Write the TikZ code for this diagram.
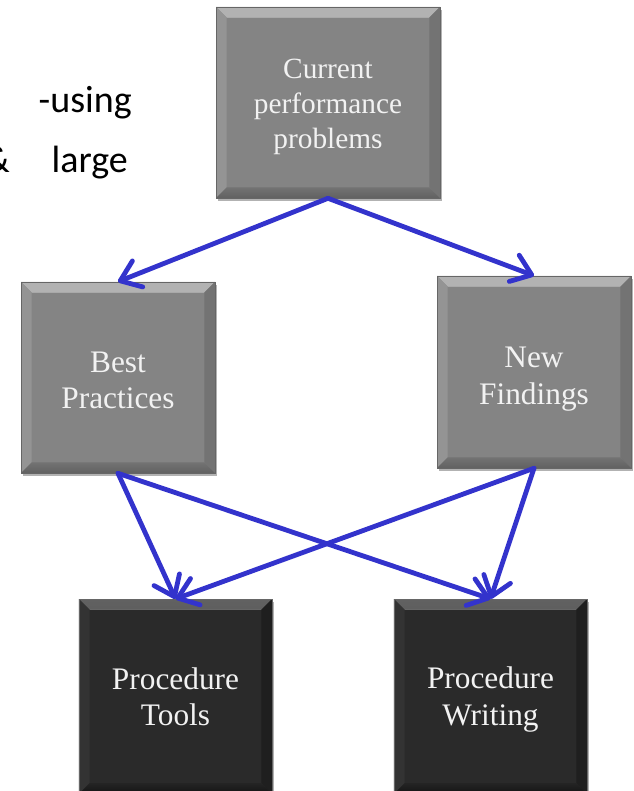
\documentclass[tikz,border=0pt]{standalone}
\usepackage{fontspec}
\setmainfont{Liberation Serif}
\newfontfamily\slidefont{Carlito}
\usetikzlibrary{arrows.meta,shadows}

\definecolor{flowblue}{RGB}{51,51,204}
\definecolor{grayface}{RGB}{132,132,132}
\definecolor{darkface}{RGB}{42,42,42}

% bevelled face: top band (#1 -> #2), left #3, right #4, bottom band (#5 -> #6), highlight #7
\newcommand\bevelbands[7]{%
  \def\bd{8pt}%
  \shade[top color=#1,bottom color=#2]
    (path picture bounding box.north west) -- (path picture bounding box.north east)
    -- ([xshift=-\bd,yshift=-\bd]path picture bounding box.north east)
    -- ([xshift=\bd,yshift=-\bd]path picture bounding box.north west) -- cycle;
  \fill[#3]
    (path picture bounding box.north west) -- ([xshift=\bd,yshift=-\bd]path picture bounding box.north west)
    -- ([xshift=\bd,yshift=\bd]path picture bounding box.south west)
    -- (path picture bounding box.south west) -- cycle;
  \fill[#4]
    (path picture bounding box.north east) -- ([xshift=-\bd,yshift=-\bd]path picture bounding box.north east)
    -- ([xshift=-\bd,yshift=\bd]path picture bounding box.south east)
    -- (path picture bounding box.south east) -- cycle;
  \shade[top color=#5,bottom color=#6]
    (path picture bounding box.south west) -- (path picture bounding box.south east)
    -- ([xshift=-\bd,yshift=\bd]path picture bounding box.south east)
    -- ([xshift=\bd,yshift=\bd]path picture bounding box.south west) -- cycle;
  \draw[#7,line width=0.6pt]
    ([xshift=\bd,yshift=-\bd]path picture bounding box.north west)
    -- ([xshift=-\bd,yshift=-\bd]path picture bounding box.north east);
}

\tikzset{
  box/.style={rectangle, inner sep=0pt,
    draw=black!60, line width=0.4pt,
    drop shadow={shadow xshift=1.5pt, shadow yshift=-2pt, opacity=0.3, fill=black}},
  graybox/.style={box, fill=grayface,
    path picture={\bevelbands{black!30}{black!38}{black!42}{black!55}{black!55}{black!62}{white!30!grayface}}},
  darkbox/.style={box, fill=darkface,
    path picture={\bevelbands{black!62}{black!78}{black!80}{black!88}{black!86}{black!92}{black!60}}},
  label/.style={align=center, inner sep=0pt, text=white!95!black},
  toptext/.style={label, font=\fontsize{22}{26.3}\selectfont},
  boxtext/.style={label, font=\fontsize{23.5}{27.3}\selectfont},
  flow/.style={draw=flowblue, line width=3.6pt, line cap=round, line join=round,
    -{Straight Barb[length=14pt,width=21pt,round]}},
  slidetext/.style={anchor=base east, inner sep=0pt, font=\slidefont\fontsize{28.5}{34}\selectfont}
}

\begin{document}
\begin{tikzpicture}[x=0.75pt,y=-0.75pt]
  \useasboundingbox (0,0) rectangle (634,791);
  \clip (0,0) rectangle (634,791);

  % slide text running under the diagram
  \node[slidetext] (usingtext) at (132,113) {-using};
  \node[slidetext] (largetext) at (128,173) {\&\hspace{1.1em}large};

  % boxes
  \node[graybox, minimum width=168pt, minimum height=143.3pt] (cpp) at (328,102.5) {};
  \node[graybox, minimum width=145.5pt, minimum height=143.3pt] (bp) at (118,377.5) {};
  \node[graybox, minimum width=145.5pt, minimum height=144pt] (nf) at (534,372) {};
  \node[darkbox, minimum width=144.8pt, minimum height=146pt] (pt) at (175.5,696.5) {};
  \node[darkbox, minimum width=144.8pt, minimum height=146pt] (pw) at (490.5,696.5) {};

  % box labels
  \node[toptext] (cpplabel) at (328,106.5) {Current\\performance\\problems};
  \node[boxtext] (bplabel) at (118,380.5) {Best\\Practices};
  \node[boxtext] (nflabel) at (534,379) {New\\Findings};
  \node[boxtext] (ptlabel) at (175.5,696.5) {Procedure\\Tools};
  \node[boxtext] (pwlabel) at (490.5,699.5) {Procedure\\Writing};

  % connectors
  \draw[flow] (cpp.south) -- (bp.north);
  \draw[flow] (cpp.south) -- (nf.north);
  \draw[flow] (bp.south) -- (pt.north);
  \draw[flow] (bp.south) -- (pw.north);
  \draw[flow] (nf.south) -- (pt.north);
  \draw[flow] (nf.south) -- (pw.north);
\end{tikzpicture}
\end{document}
